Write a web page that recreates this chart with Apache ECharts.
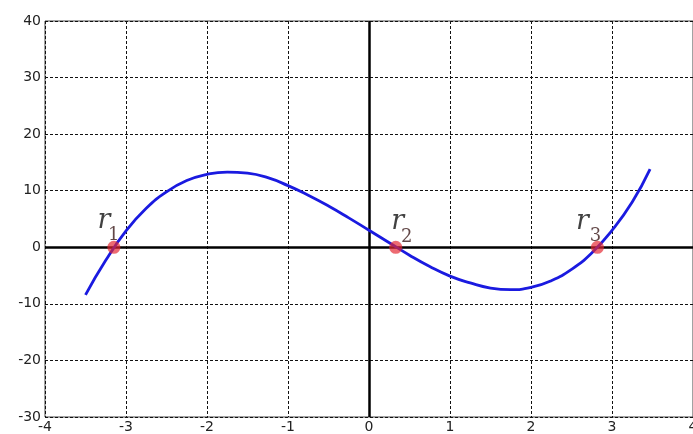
<!DOCTYPE html>
<html><head><meta charset="utf-8">
<script src="https://cdn.jsdelivr.net/npm/echarts@6/dist/echarts.min.js"></script>
<style>html,body{margin:0;padding:0;background:#fff}#c{width:693px;height:434px}</style>
</head><body><div id="c"></div>
<script>
var curveX = [-3.5,-3.25,-3.0,-2.75,-2.5,-2.25,-2.0,-1.75,-1.5,-1.25,-1.0,-0.75,-0.5,-0.25,0,0.25,0.5,0.75,1.0,1.25,1.5,1.75,2.0,2.25,2.5,2.75,3.0,3.25,3.47];
var curveY = [-8.4,-2.3,2.9,6.9,9.8,11.8,12.9,13.3,13.1,12.3,10.9,9.2,7.3,5.2,3.0,0.8,-1.4,-3.4,-5.1,-6.3,-7.2,-7.5,-7.1,-5.9,-3.9,-1.0,3.0,8.0,13.8];
var rootX = [-3.15, 0.33, 2.82];
var rootY = [0, 0, 0];
var rootNames = ['1','2','3'];
var xTicks = [-4,-3,-2,-1,0,1,2,3,4];
var yTicks = [-30,-20,-10,0,10,20,30,40];

var rOffsets = [[-10,-26],[2,-25],[-15,-25]];
var sOffsets = [[0,-12],[11,-10],[-2,-11]];
var chart = echarts.init(document.getElementById('c'));
var lineData = curveX.map(function(x,i){return [x, curveY[i]];});
var rData = rootX.map(function(x,i){
  return {value:[x, rootY[i]], label:{offset: rOffsets[i]}};
});
var sData = rootX.map(function(x,i){
  return {value:[x, rootY[i]], name: rootNames[i], label:{offset: sOffsets[i]}};
});
var axisFont = {fontFamily:'DejaVu Sans', fontSize:14, color:'#222'};
chart.setOption({
  animation:false,
  grid:{left:45, right:0, top:21, bottom:17, show:true, borderColor:'#444', borderWidth:1,
    containLabel:false, outerBoundsMode:'none'},
  xAxis:{type:'value', min:xTicks[0], max:xTicks[xTicks.length-1], interval:1,
    axisLine:{show:false, onZero:false}, axisTick:{show:false},
    axisLabel:Object.assign({margin:3}, axisFont),
    splitLine:{show:true, lineStyle:{color:'#111', type:[3,2], width:1}}},
  yAxis:{type:'value', min:yTicks[0], max:yTicks[yTicks.length-1], interval:10,
    axisLine:{show:false, onZero:false}, axisTick:{show:false},
    axisLabel:Object.assign({margin:4}, axisFont),
    splitLine:{show:true, lineStyle:{color:'#111', type:[3,2], width:1}}},
  series:[
    {type:'line', data:[], markLine:{silent:true, symbol:'none', label:{show:false},
      lineStyle:{color:'#000', type:'solid', width:2.5},
      data:[{xAxis:0},{yAxis:0}]}},
    {type:'line', data:lineData, smooth:true, showSymbol:false, z:5,
      lineStyle:{color:'#1a1ae0', width:2.8}},
    {type:'scatter', data:rData, symbolSize:13, z:6,
      itemStyle:{color:'rgba(228,38,48,0.85)'},
      label:{show:true, position:'inside', formatter:'r', textBorderWidth:0,
        fontFamily:'DejaVu Serif', fontStyle:'italic', fontSize:27, color:'#111'}},
    {type:'scatter', data:sData, symbolSize:0, z:7,
      itemStyle:{color:'rgba(0,0,0,0)'},
      label:{show:true, position:'inside', formatter:'{b}', textBorderWidth:0,
        fontFamily:'DejaVu Serif', fontSize:18, color:'#3a1818'}}
  ]
});
</script></body></html>
